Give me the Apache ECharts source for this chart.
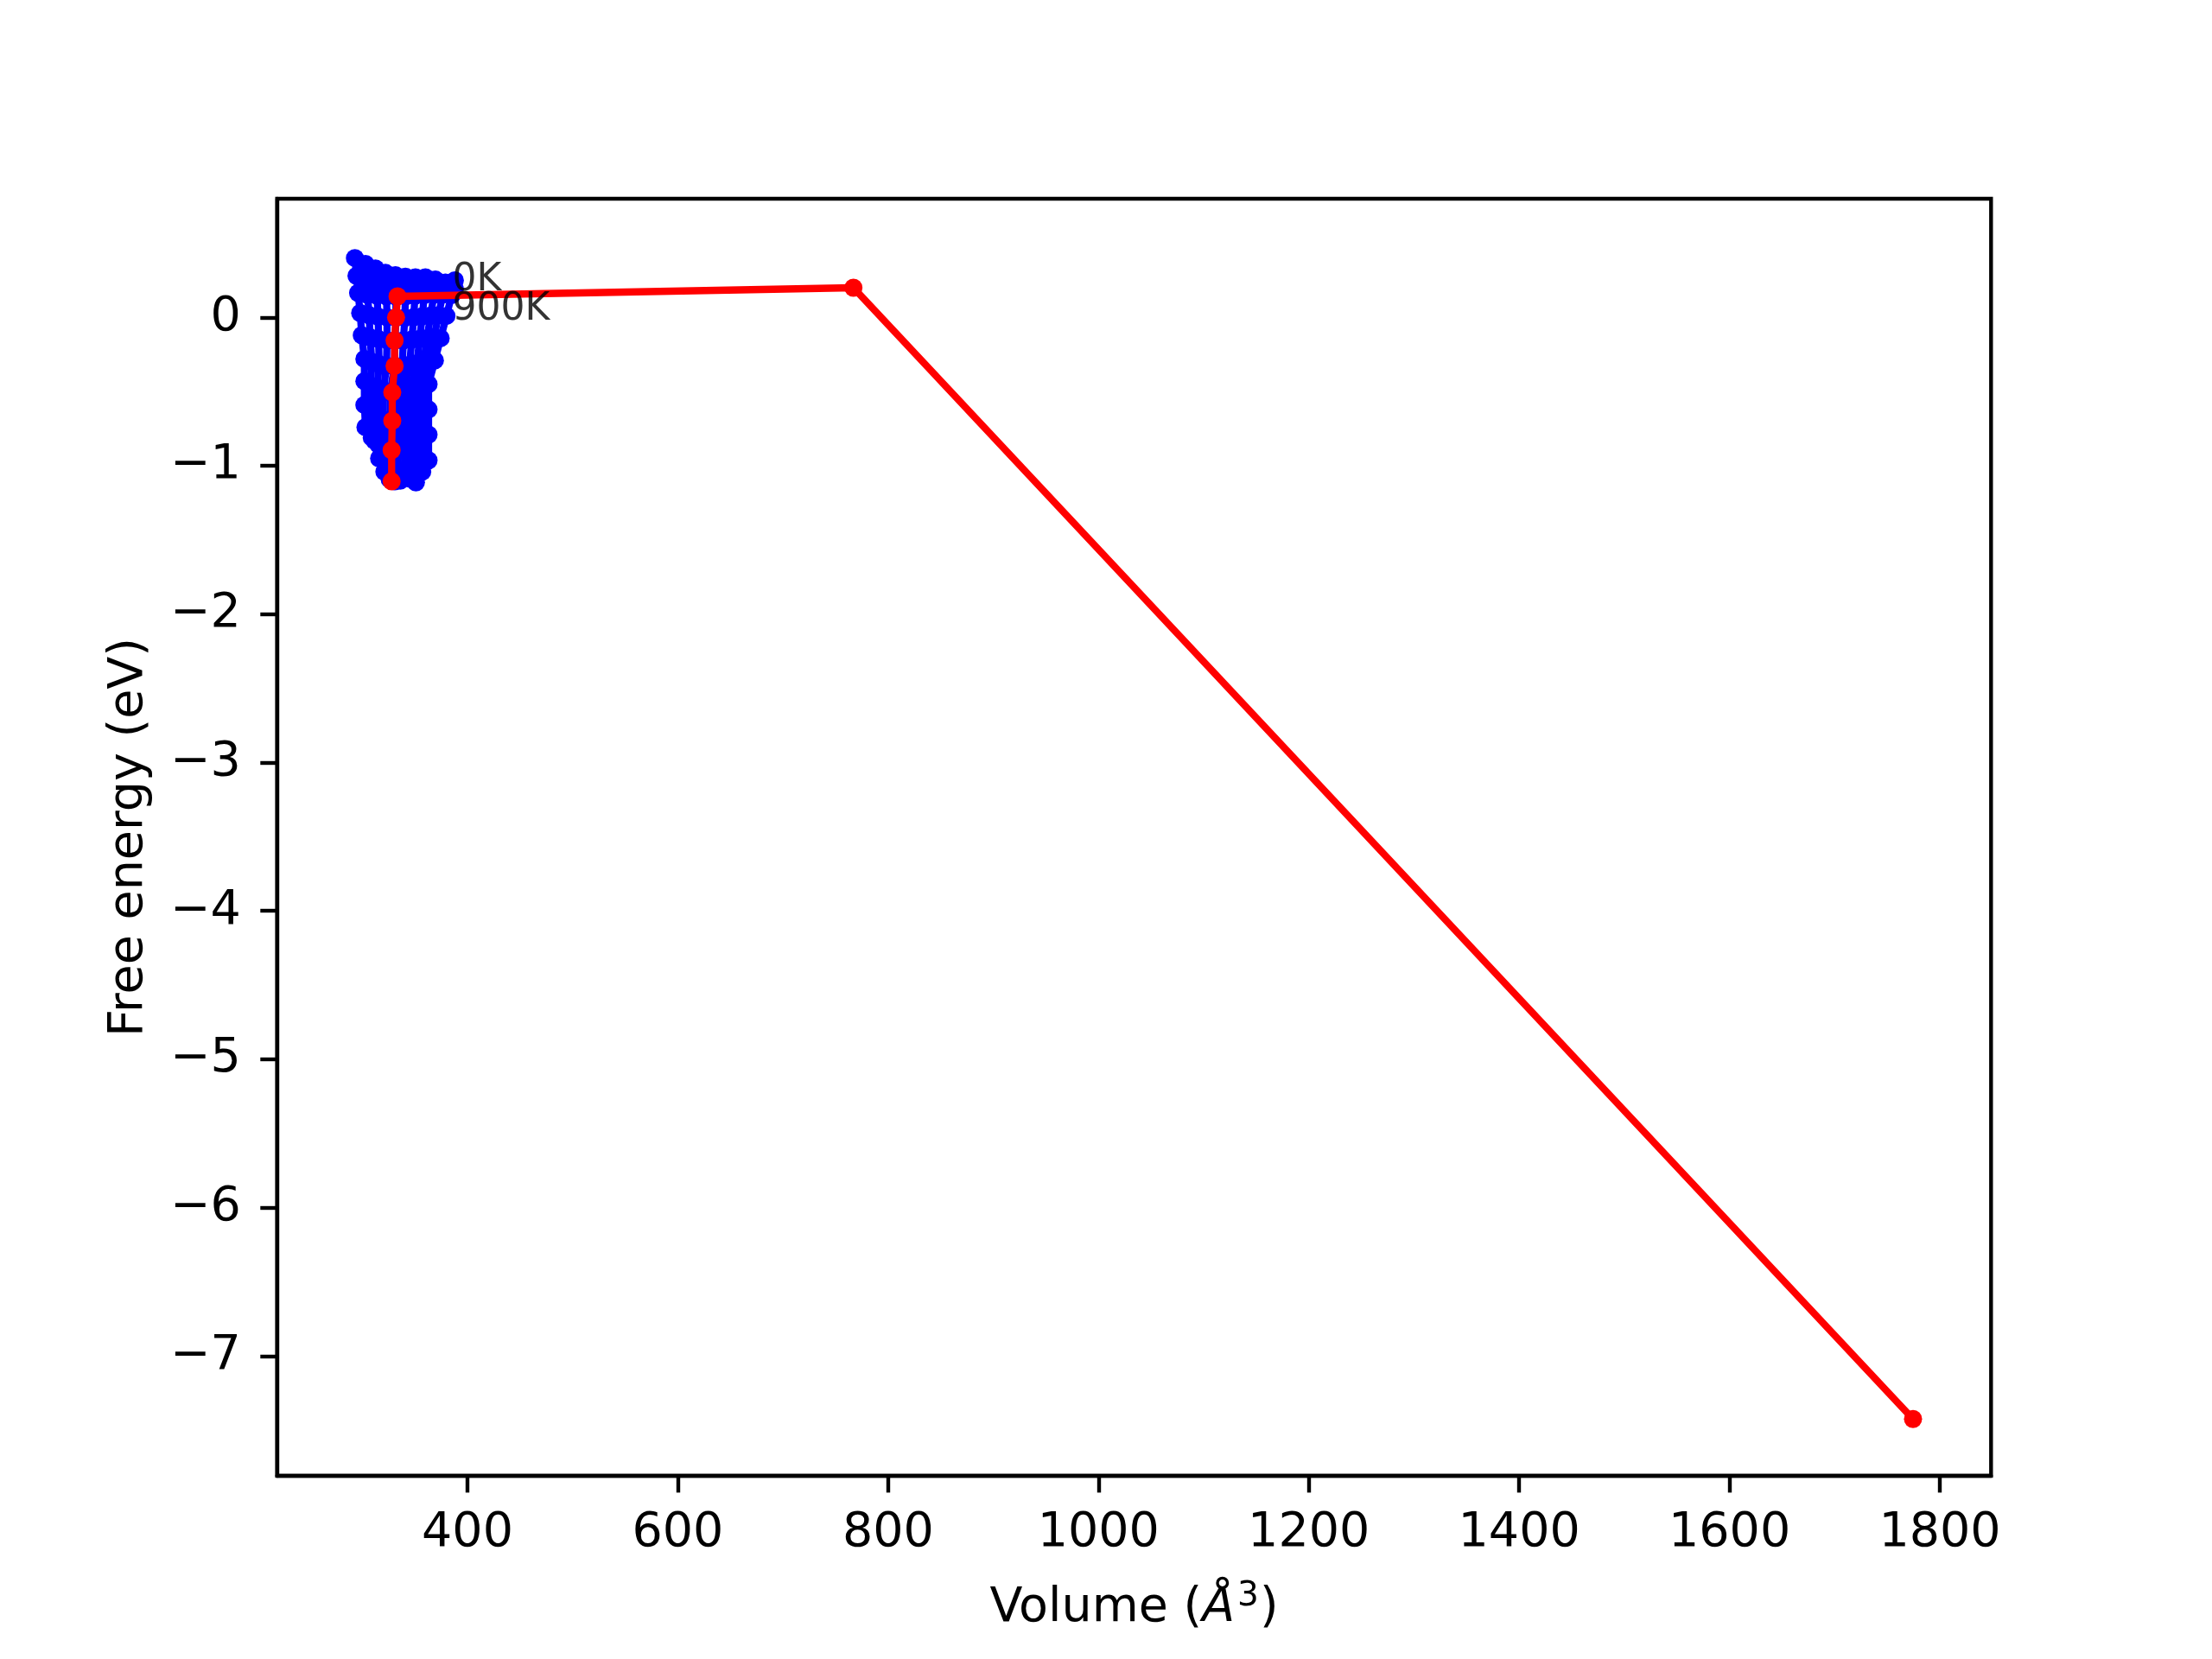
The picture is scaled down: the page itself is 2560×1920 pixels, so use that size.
<!DOCTYPE html>
<html>
<head>
<meta charset="utf-8">
<script src="https://cdn.jsdelivr.net/npm/echarts@6/dist/echarts.min.js"></script>
<style>
html,body{margin:0;padding:0;background:#fff;}
#chart{width:2560px;height:1920px;}
</style>
</head>
<body>
<div id="chart"></div>
<script>
// ---- data ----
const temps = ['0K','100K','200K','300K','400K','500K','600K','700K','800K','900K'];

const vol0 = [293, 303, 312.5, 322, 331.5, 341, 350.5, 360, 369.5, 379, 388];
const fe0  = [0.40, 0.36, 0.33, 0.30, 0.285, 0.275, 0.27, 0.27, 0.255, 0.235, 0.25];
const vol1 = [294.5, 304, 313.5, 323, 332.5, 342, 351, 360.5, 370, 379, 388];
const fe1  = [0.28, 0.25, 0.225, 0.21, 0.20, 0.195, 0.19, 0.19, 0.19, 0.185, 0.19];
const vol2 = [296, 305, 314, 323, 332, 341, 350, 359, 368, 376.5, 385];
const fe2  = [0.165, 0.152, 0.146, 0.142, 0.14, 0.142, 0.145, 0.15, 0.152, 0.155, 0.15];
const vol3 = [298, 306.5, 315, 323.5, 332, 340.5, 349, 357, 365, 372.5, 380];
const fe3  = [0.03, 0.015, 0.005, 0.0, -0.003, -0.002, 0.002, 0.008, 0.012, 0.015, 0.01];
const vol4 = [299.5, 307.5, 315.5, 323.5, 331, 339, 347, 354.5, 361.5, 368, 374.5];
const fe4  = [-0.12, -0.135, -0.147, -0.154, -0.157, -0.155, -0.15, -0.145, -0.14, -0.138, -0.14];
const vol5 = [302, 309, 316, 323, 330.5, 338, 345, 352, 358.5, 364, 369];
const fe5  = [-0.28, -0.30, -0.316, -0.325, -0.329, -0.327, -0.32, -0.31, -0.30, -0.292, -0.29];
const vol6 = [302, 308, 314, 320, 326.5, 332.5, 338.5, 345, 351, 357, 363];
const fe6  = [-0.43, -0.46, -0.485, -0.50, -0.507, -0.505, -0.50, -0.49, -0.48, -0.465, -0.45];
const vol7 = [302, 308, 314, 320, 326.5, 332.5, 338.5, 345, 351, 357, 363];
const fe7  = [-0.59, -0.635, -0.668, -0.69, -0.699, -0.697, -0.69, -0.68, -0.665, -0.645, -0.62];
const vol8 = [303, 309, 315, 321, 327, 333, 339, 345, 351, 357, 363];
const fe8  = [-0.74, -0.81, -0.855, -0.883, -0.896, -0.894, -0.882, -0.862, -0.84, -0.815, -0.79];
const vol9 = [311.5, 316, 321, 326, 331, 336, 341.5, 346.5, 351, 357, 363];
const fe9  = [-0.83, -0.95, -1.04, -1.09, -1.105, -1.10, -1.045, -1.09, -1.112, -1.04, -0.963];

// minimum (red) curve
const minVol = [1774.5, 767, 333.5, 332.1, 330.7, 330.7, 328.5, 328.5, 327.9, 327.9];
const minFe  = [-7.425, 0.20, 0.142, 0.0, -0.155, -0.327, -0.505, -0.697, -0.895, -1.105];

// text annotations
const noteText = ['0K', '900K'];
const noteVol  = [386, 386];
const noteFe   = [0.20, 0.0];

// ticks
const xTicks = [400, 600, 800, 1000, 1200, 1400, 1600, 1800];
const yTicks = [-7, -6, -5, -4, -3, -2, -1, 0];

// ---- chart ----
const vols = [vol0, vol1, vol2, vol3, vol4, vol5, vol6, vol7, vol8, vol9];
const fes  = [fe0, fe1, fe2, fe3, fe4, fe5, fe6, fe7, fe8, fe9];
const FONT = 'DejaVu Sans';
const pair = (xs, ys) => xs.map((x, i) => [x, ys[i]]);
const BLUE = '#0000ff';

const series = [];
// each temperature: F(V) curve with markers
vols.forEach((v, k) => {
  series.push({
    name: temps[k], type: 'line', data: pair(v, fes[k]),
    symbol: 'circle', symbolSize: 21, showSymbol: true,
    lineStyle: {color: BLUE, width: 8.3, join: 'round'},
    itemStyle: {color: BLUE, borderWidth: 0},
    z: 2, animation: false, silent: true
  });
});
// the same points also joined across temperatures (volume index j)
for (let j = 0; j < vol0.length; j++) {
  series.push({
    type: 'line', data: vols.map((v, k) => [v[j], fes[k][j]]),
    symbol: 'none', showSymbol: false,
    lineStyle: {color: BLUE, width: 8.3, join: 'round'},
    z: 2, animation: false, silent: true
  });
}
series.push({
  name: 'min', type: 'line', data: pair(minVol, minFe),
  symbol: 'circle', symbolSize: 21, showSymbol: true,
  lineStyle: {color: '#ff0000', width: 8.3, join: 'round'},
  itemStyle: {color: '#ff0000', borderWidth: 0},
  z: 3, animation: false, silent: true
});
series.push({
  type: 'scatter', data: noteVol.map((x, i) => ({value: [x, noteFe[i]], name: noteText[i]})),
  symbol: 'circle', symbolSize: 1, itemStyle: {color: 'rgba(0,0,0,0)'},
  label: {show: true, position: [0, 0], align: 'left', verticalAlign: 'bottom',
    offset: [0, 14], formatter: p => p.name, fontFamily: FONT, fontSize: 44, color: '#000'},
  z: 5, animation: false, silent: true
});

const minus = v => (v < 0 ? '\u2212' + Math.abs(v) : String(v));

const option = {
  backgroundColor: '#ffffff',
  animation: false,
  grid: {left: 320.7, right: 255.7, top: 230, bottom: 212, show: true,
    borderColor: '#000', borderWidth: 4.4, backgroundColor: 'rgba(0,0,0,0)'},
  xAxis: {
    type: 'value', min: 219, max: 1848.7,
    name: '{a|Volume (}{i|Å}{s|3}{a|)}', nameLocation: 'middle', nameGap: 120,
    nameTextStyle: {fontFamily: FONT, fontSize: 55.5, color: '#000',
      rich: {a: {fontFamily: FONT, fontSize: 55.5, color: '#000', verticalAlign: 'bottom'},
             i: {fontFamily: FONT, fontSize: 55.5, fontStyle: 'italic', color: '#000', verticalAlign: 'bottom'},
             s: {fontFamily: FONT, fontSize: 39, color: '#000', verticalAlign: 'bottom', padding: [0, 1, 23, 3]}}},
    axisLine: {show: true, onZero: false, lineStyle: {color: '#000', width: 4.4}},
    axisTick: {show: true, customValues: xTicks, length: 19.4, lineStyle: {color: '#000', width: 4.4}},
    axisLabel: {customValues: xTicks, fontFamily: FONT, fontSize: 55.5, color: '#000', margin: 39,
      formatter: v => String(v)},
    splitLine: {show: false}
  },
  yAxis: {
    type: 'value', min: -7.808, max: 0.80,
    name: 'Free energy (eV)', nameLocation: 'middle', nameGap: 143, nameRotate: 90,
    nameTextStyle: {fontFamily: FONT, fontSize: 55.5, color: '#000'},
    axisLine: {show: true, onZero: false, lineStyle: {color: '#000', width: 4.4}},
    axisTick: {show: true, customValues: yTicks, length: 19.4, lineStyle: {color: '#000', width: 4.4}},
    axisLabel: {customValues: yTicks, fontFamily: FONT, fontSize: 55.5, color: '#000', margin: 42,
      formatter: minus},
    splitLine: {show: false}
  },
  series: series
};

const chart = echarts.init(document.getElementById('chart'), null, {renderer: 'canvas'});
chart.setOption(option);
</script>
</body>
</html>
